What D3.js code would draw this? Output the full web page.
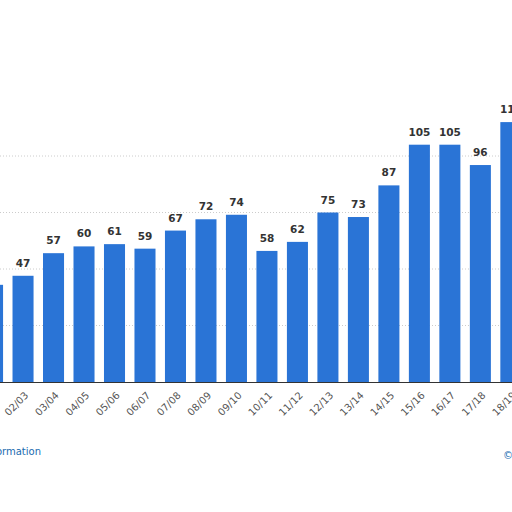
<!DOCTYPE html>
<html><head><meta charset="utf-8">
<script src="https://cdn.jsdelivr.net/npm/d3@7"></script>
<style>body{margin:0;background:#fff}svg{display:block}</style>
</head><body>
<script>
const categories = ["01/02","02/03","03/04","04/05","05/06","06/07","07/08","08/09","09/10","10/11","11/12","12/13","13/14","14/15","15/16","16/17","17/18","18/19"];
const values = [43,47,57,60,61,59,67,72,74,58,62,75,73,87,105,105,96,115];
const yTicks = [0,25,50,75,100];

const svg = d3.select("body").append("svg").attr("width",512).attr("height",512);
const x = d3.scaleBand().domain(categories).range([-22.7,526.1]).paddingInner(0.31).paddingOuter(0.155);
const y = d3.scaleLinear().domain([0,100]).range([382,156]);

svg.append("g").selectAll("line").data(yTicks.slice(1)).join("line")
  .attr("x1",0).attr("x2",512).attr("y1",d=>y(d)).attr("y2",d=>y(d))
  .attr("stroke","#ccc").attr("stroke-dasharray","1,2");

svg.append("g").selectAll("rect").data(values).join("rect")
  .attr("x",(d,i)=>x(categories[i])).attr("width",x.bandwidth())
  .attr("y",d=>y(d)).attr("height",d=>y(0)-y(d)).attr("fill","#2a74d6");

svg.append("g").selectAll("text").data(values).join("text")
  .attr("x",(d,i)=>x(categories[i])+x.bandwidth()/2).attr("y",d=>y(d)-9)
  .attr("text-anchor","middle").attr("font-family","DejaVu Sans").attr("font-weight","bold")
  .attr("font-size",10.5).attr("fill","#333").text(d=>d);

svg.append("line").attr("x1",0).attr("x2",512).attr("y1",382.5).attr("y2",382.5).attr("stroke","#333").attr("stroke-width",1);

svg.append("g").selectAll("text").data(categories).join("text")
  .attr("transform",d=>`translate(${x(d)+x.bandwidth()/2+6},${396}) rotate(-45)`)
  .attr("text-anchor","end").attr("font-family","DejaVu Sans").attr("font-size",10)
  .attr("fill","#555").text(d=>d);

svg.append("text").attr("x",41).attr("y",455).attr("text-anchor","end")
  .attr("font-family","DejaVu Sans").attr("font-size",10).attr("fill","#1a6bb0").text("Additional Information");
svg.append("text").attr("x",503).attr("y",459)
  .attr("font-family","DejaVu Sans").attr("font-size",10).attr("fill","#1a6bb0").text("© Statista 2021");
</script>
</body></html>
